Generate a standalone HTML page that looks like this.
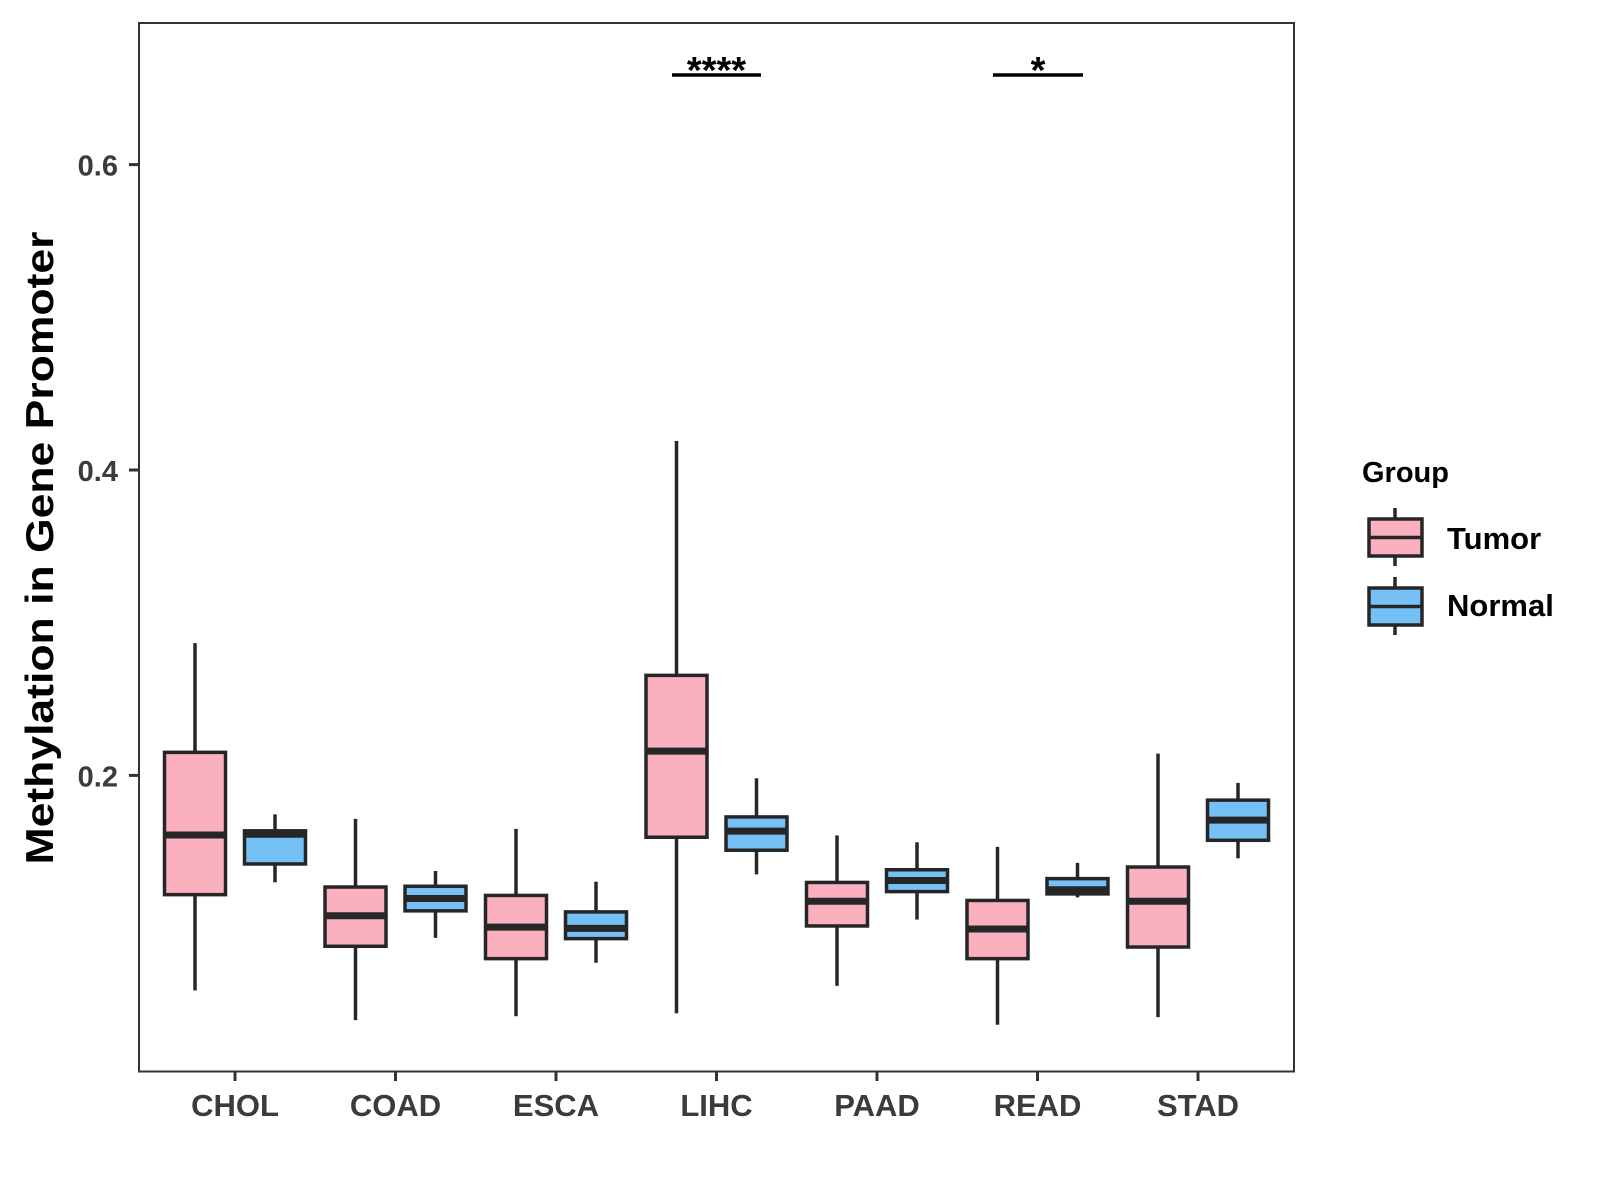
<!DOCTYPE html>
<html><head><meta charset="utf-8"><style>
html,body{margin:0;padding:0;background:#fff}
svg{display:block}
text{font-family:"Liberation Sans",Arial,sans-serif;font-weight:bold}
</style></head><body>
<svg id="chart" width="1600" height="1200" viewBox="0 0 1600 1200">
<rect x="139" y="23" width="1155" height="1048.5" fill="#fff" stroke="#333" stroke-width="2"/>
<g id="marks"></g>
<g id="axes"></g>
<text transform="translate(53,548) rotate(-90)" text-anchor="middle" font-size="39" fill="#000" textLength="633" lengthAdjust="spacingAndGlyphs">Methylation in Gene Promoter</text>
<g>
<line x1="672" y1="75" x2="761" y2="75" stroke="#000" stroke-width="3.5"/>
<text x="716.5" y="83" text-anchor="middle" font-size="38" fill="#000">****</text>
<line x1="993" y1="75" x2="1083" y2="75" stroke="#000" stroke-width="3.5"/>
<text x="1038" y="83" text-anchor="middle" font-size="38" fill="#000">*</text>
</g>
<g>
<text x="1362" y="482" font-size="29" fill="#000">Group</text>
<g>
<line x1="1395" y1="508" x2="1395" y2="566" stroke="#262626" stroke-width="3.5"/>
<rect x="1369" y="519" width="53" height="37" fill="#FBB0C0" stroke="#262626" stroke-width="3.5"/>
<line x1="1369" y1="537.5" x2="1422" y2="537.5" stroke="#262626" stroke-width="3.5"/>
<text x="1447" y="549" font-size="31" fill="#000">Tumor</text>
</g>
<g>
<line x1="1395" y1="577" x2="1395" y2="635" stroke="#262626" stroke-width="3.5"/>
<rect x="1369" y="588" width="53" height="37" fill="#75C1F6" stroke="#262626" stroke-width="3.5"/>
<line x1="1369" y1="606.5" x2="1422" y2="606.5" stroke="#262626" stroke-width="3.5"/>
<text x="1447" y="616" font-size="31" fill="#000">Normal</text>
</g>
</g>
</svg>
<script>
const categories = ["CHOL","COAD","ESCA","LIHC","PAAD","READ","STAD"];
const yTicks = [0.2, 0.4, 0.6];
const yTickLabels = ["0.2","0.4","0.6"];
// [low, q1, median, q3, high]
const tumorStats = [
  [0.0592,0.1219,0.161,0.2151,0.2866],
  [0.0397,0.0881,0.1081,0.1269,0.1715],
  [0.0423,0.0800,0.1006,0.1214,0.1650],
  [0.0442,0.1595,0.2159,0.2655,0.4190],
  [0.0622,0.1014,0.1176,0.1299,0.1607],
  [0.0367,0.0800,0.0994,0.1181,0.1532],
  [0.0417,0.0876,0.1176,0.1400,0.2143]
];
const normalStats = [
  [0.1300,0.1420,0.1615,0.1637,0.1745],
  [0.0936,0.1113,0.1194,0.1274,0.1374],
  [0.0773,0.0931,0.0998,0.1106,0.1304],
  [0.1352,0.1510,0.1635,0.1728,0.1981],
  [0.1056,0.1239,0.1312,0.1382,0.1562],
  [0.1201,0.1224,0.1251,0.1324,0.1427],
  [0.1457,0.1575,0.1707,0.1838,0.1951]
];
const NS="http://www.w3.org/2000/svg";
function y(v){return 775.4-(v-0.2)*1527;}
function x(i){return 235+i*160.5;}
function mk(tag,attrs,parent){const e=document.createElementNS(NS,tag);for(const k in attrs)e.setAttribute(k,attrs[k]);parent.appendChild(e);return e;}
const marks=document.getElementById('marks');
const axes=document.getElementById('axes');
const groups=[{stats:tumorStats,off:-40,fill:"#FBB0C0",name:"tumor"},{stats:normalStats,off:40,fill:"#75C1F6",name:"normal"}];
const bw=61, col="#262626";
categories.forEach((c,i)=>{
  groups.forEach(g=>{
    const s=g.stats[i]; const cx=x(i)+g.off;
    const gr=mk('g',{},marks);
    
    
    mk('line',{x1:cx,x2:cx,y1:y(s[4]),y2:y(s[3]),stroke:col,'stroke-width':3.5},gr);
    mk('line',{x1:cx,x2:cx,y1:y(s[1]),y2:y(s[0]),stroke:col,'stroke-width':3.5},gr);
    mk('rect',{x:cx-bw/2,y:y(s[3]),width:bw,height:y(s[1])-y(s[3]),fill:g.fill,stroke:col,'stroke-width':3.5},gr);
    mk('line',{x1:cx-bw/2,x2:cx+bw/2,y1:y(s[2]),y2:y(s[2]),stroke:col,'stroke-width':7},gr);
  });
  const t=mk('line',{x1:x(i),x2:x(i),y1:1071.5,y2:1081,stroke:'#333','stroke-width':3},axes);
  
  
  const l=mk('text',{x:x(i),y:1116,'text-anchor':'middle','font-size':31,fill:'#3b3b3b'},axes);
  l.textContent=c;
  
  
});
yTicks.forEach((v,i)=>{
  const t=mk('line',{x1:129,x2:139,y1:y(v),y2:y(v),stroke:'#333','stroke-width':3},axes);
  
  
  const l=mk('text',{x:118,y:y(v)+11,'text-anchor':'end','font-size':29,fill:'#3b3b3b'},axes);
  l.textContent=yTickLabels[i];
  
  
});
</script>
</body></html>
